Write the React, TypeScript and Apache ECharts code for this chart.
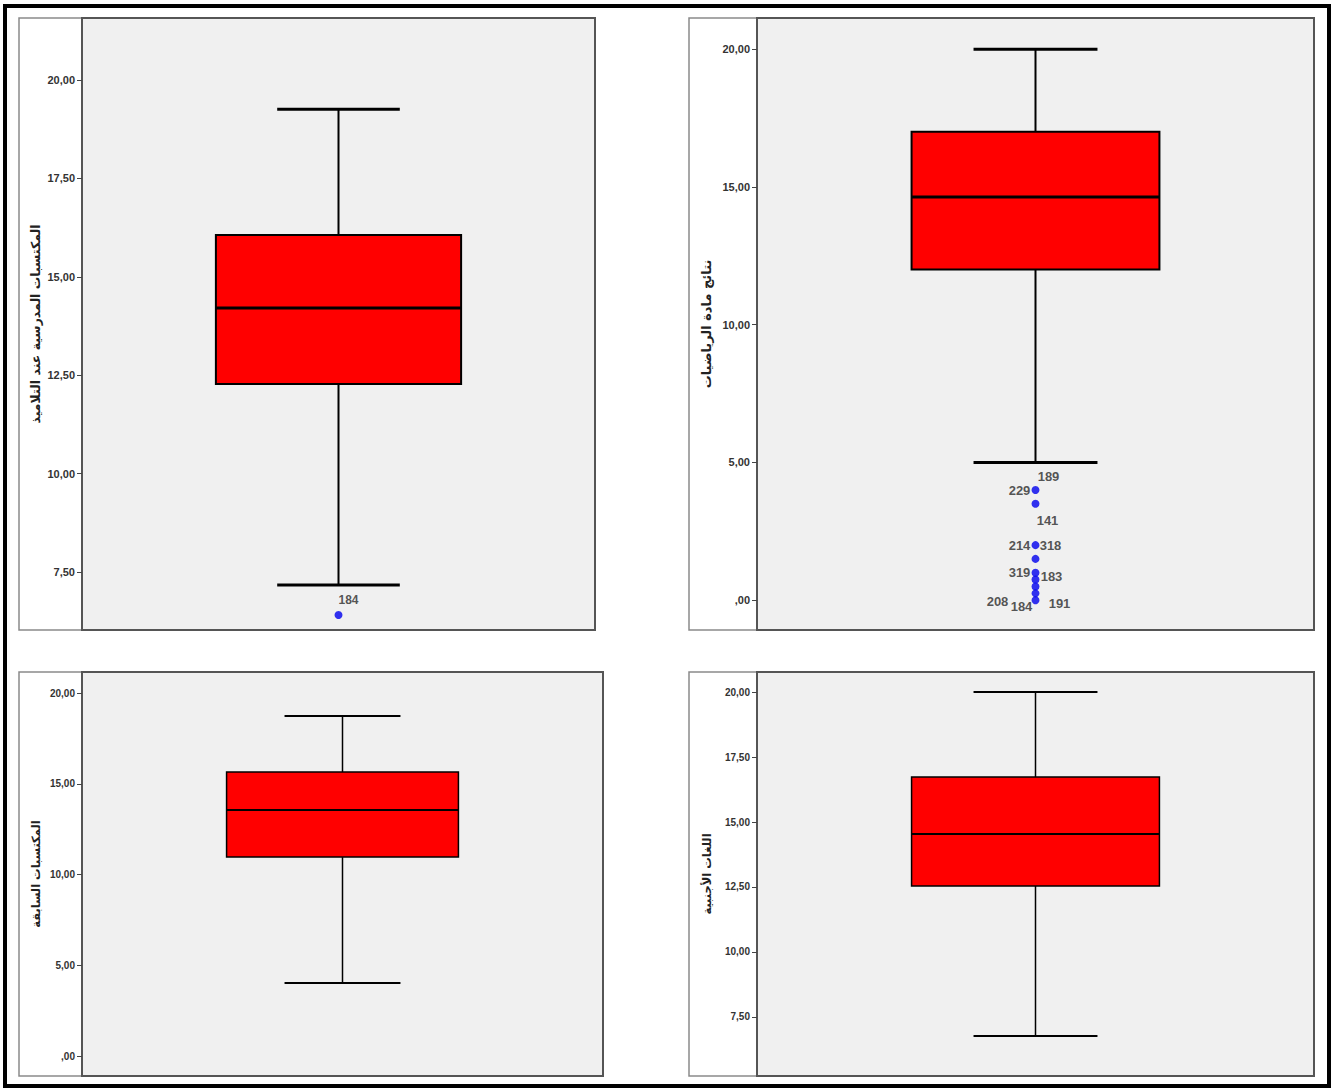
import React, { useEffect, useRef } from "react";
import * as echarts from "echarts";

// Five-number summaries: [lower whisker, Q1, median, Q3, upper whisker]
const schoolAchievementStats = [7.17, 12.28, 14.21, 16.06, 19.26];
const mathResultsStats = [5.0, 12.0, 14.63, 17.0, 20.0];
const priorAchievementStats = [4.02, 10.96, 13.55, 15.65, 18.73];
const foreignLanguagesStats = [6.77, 12.54, 14.54, 16.73, 20.0];

// Outlying cases
const schoolAchievementOutliers = [6.41];
const schoolAchievementOutlierIds = ["184"];
const mathResultsOutliers = [4.0, 3.5, 2.0, 1.5, 1.0, 0.75, 0.5, 0.25, 0.0];
const mathResultsLabelValues = [4.0, 4.0, 3.5, 2.0, 2.0, 1.0, 1.0, 0.0, 0.0, 0.0];
const mathResultsLabelIds = ["189", "229", "141", "214", "318", "319", "183", "208", "184", "191"];

// Tick values on each value axis
const ticksSchool = [7.5, 10, 12.5, 15, 17.5, 20];
const ticksMath = [0, 5, 10, 15, 20];
const ticksPrior = [0, 5, 10, 15, 20];
const ticksLanguages = [7.5, 10, 12.5, 15, 17.5, 20];

// Axis titles
const titleSchool = "المكتسبات المدرسية عند التلاميذ";
const titleMath = "نتائج مادة الرياضيات";
const titlePrior = "المكتسبات السابقة";
const titleLanguages = "اللغات الأجنبية";

// Label placement around the outlier markers (pixels)
const schoolLabelOffsets = [[10, -15]];
const mathLabelOffsets = [
  [13, -14], [-16, 0], [12, 17], [-16, 0], [15, 0],
  [-16, 0], [16, 4], [-38, 1], [-14, 6], [24, 3],
];

const fmtTick = (v: number) => {
  const s = v.toFixed(2).replace(".", ",");
  return s.startsWith("0,") ? s.slice(1) : s;
};

const caseFont = "'Liberation Sans', Arial, sans-serif";

type Panel = {
  grid: { left: number; top: number; width: number; height: number };
  frame: { x: number; y: number; w: number; h: number };
  min: number;
  max: number;
  ticks: number[];
  title: string;
  titleSize: number;
  nameGap: number;
  stats: number[];
  boxFrac: number;
  boxLine: number;
  medianLine: number;
  capLine: number;
  labelSize: number;
};

const panels: Panel[] = [
  {
    grid: { left: 82, top: 18, width: 513, height: 612 },
    frame: { x: 19, y: 18, w: 576, h: 612 },
    min: 6.03, max: 21.575, ticks: ticksSchool, title: titleSchool, titleSize: 12.5, nameGap: 40,
    stats: schoolAchievementStats, boxFrac: 0.478, boxLine: 2, medianLine: 3, capLine: 3, labelSize: 11,
  },
  {
    grid: { left: 757, top: 18, width: 557, height: 612 },
    frame: { x: 689, y: 18, w: 625, h: 612 },
    min: -1.08, max: 21.13, ticks: ticksMath, title: titleMath, titleSize: 13, nameGap: 44,
    stats: mathResultsStats, boxFrac: 0.445, boxLine: 2, medianLine: 3, capLine: 3, labelSize: 11,
  },
  {
    grid: { left: 82, top: 672, width: 521, height: 404 },
    frame: { x: 19, y: 672, w: 584, h: 404 },
    min: -1.1, max: 21.16, ticks: ticksPrior, title: titlePrior, titleSize: 11.5, nameGap: 40,
    stats: priorAchievementStats, boxFrac: 0.445, boxLine: 1.5, medianLine: 2, capLine: 2, labelSize: 10,
  },
  {
    grid: { left: 757, top: 672, width: 557, height: 404 },
    frame: { x: 689, y: 672, w: 625, h: 404 },
    min: 5.23, max: 20.77, ticks: ticksLanguages, title: titleLanguages, titleSize: 11.5, nameGap: 44,
    stats: foreignLanguagesStats, boxFrac: 0.445, boxLine: 1.5, medianLine: 2, capLine: 2, labelSize: 10,
  },
];

function boxRenderer(boxFrac: number, boxLine: number, medianLine: number, capLine: number) {
  return (_params: any, api: any) => {
    const x = api.value(0);
    const pMin = api.coord([x, api.value(1)]);
    const pQ1 = api.coord([x, api.value(2)]);
    const pMed = api.coord([x, api.value(3)]);
    const pQ3 = api.coord([x, api.value(4)]);
    const pMax = api.coord([x, api.value(5)]);
    const band = api.size([1, 0])[0];
    const half = (band * boxFrac) / 2;
    const capHalf = half / 2;
    const cx = pMed[0];
    const stroke = { stroke: "#000", lineWidth: boxLine };
    return {
      type: "group",
      children: [
        { type: "line", shape: { x1: cx, y1: pMax[1], x2: cx, y2: pQ3[1] }, style: stroke },
        { type: "line", shape: { x1: cx, y1: pQ1[1], x2: cx, y2: pMin[1] }, style: stroke },
        { type: "line", shape: { x1: cx - capHalf, y1: pMax[1], x2: cx + capHalf, y2: pMax[1] }, style: { stroke: "#000", lineWidth: capLine } },
        { type: "line", shape: { x1: cx - capHalf, y1: pMin[1], x2: cx + capHalf, y2: pMin[1] }, style: { stroke: "#000", lineWidth: capLine } },
        {
          type: "rect",
          shape: { x: cx - half, y: pQ3[1], width: half * 2, height: pQ1[1] - pQ3[1] },
          style: { fill: "#ff0000", stroke: "#000", lineWidth: boxLine },
        },
        { type: "line", shape: { x1: cx - half, y1: pMed[1], x2: cx + half, y2: pMed[1] }, style: { stroke: "#000", lineWidth: medianLine } },
      ],
    };
  };
}

export default function App() {
  const ref = useRef<HTMLDivElement>(null);

  useEffect(() => {
    if (!ref.current) return;
    const chart = echarts.init(ref.current, null, { renderer: "svg" });

    const grids = panels.map((p) => ({
      ...p.grid,
      show: true,
      backgroundColor: "#f0f0f0",
      borderColor: "#555",
      borderWidth: 2,
      containLabel: false,
    }));

    const xAxes = panels.map((_, i) => ({
      type: "category",
      gridIndex: i,
      data: [""],
      show: false,
    }));

    const yAxes = panels.map((p, i) => ({
      type: "value",
      gridIndex: i,
      min: p.min,
      max: p.max,
      name: p.title,
      nameLocation: "middle",
      nameRotate: 90,
      nameGap: p.nameGap,
      nameTextStyle: {
        fontFamily: "DejaVu Sans",
        fontWeight: "bold",
        fontSize: p.titleSize,
        color: "#222",
      },
      axisLine: { show: true, lineStyle: { color: "#555", width: 2 } },
      axisTick: {
        show: true,
        length: 5,
        customValues: p.ticks,
        lineStyle: { color: "#444", width: 1 },
      },
      axisLabel: {
        customValues: p.ticks,
        formatter: fmtTick,
        margin: 7,
        fontFamily: "Liberation Sans",
        fontWeight: "bold",
        fontSize: p.labelSize,
        color: "#333",
      },
      splitLine: { show: false },
    }));

    const series: any[] = panels.map((p, i) => ({
      type: "custom",
      xAxisIndex: i,
      yAxisIndex: i,
      renderItem: boxRenderer(p.boxFrac, p.boxLine, p.medianLine, p.capLine),
      encode: { x: 0, y: [1, 2, 3, 4, 5] },
      data: [[0, ...p.stats]],
      z: 3,
    }));

    const outlierMarker = {
      type: "scatter",
      symbol: "circle",
      symbolSize: 8,
      itemStyle: { color: "#0000ee" },
      z: 4,
    };
    const labelStyle = (size: number) => ({
      show: true,
      position: "inside",
      fontFamily: caseFont,
      fontWeight: "bold",
      fontSize: size,
      color: "#2a2a2a",
      formatter: (d: any) => d.name,
    });

    series.push(
      {
        ...outlierMarker,
        xAxisIndex: 0,
        yAxisIndex: 0,
        data: schoolAchievementOutliers.map((v) => [0, v]),
      },
      {
        type: "scatter",
        xAxisIndex: 0,
        yAxisIndex: 0,
        symbolSize: 1,
        itemStyle: { color: "rgba(0,0,0,0)" },
        z: 5,
        data: schoolAchievementOutliers.map((v, k) => ({
          value: [0, v],
          name: schoolAchievementOutlierIds[k],
          label: { ...labelStyle(12), offset: schoolLabelOffsets[k] },
        })),
      },
      {
        ...outlierMarker,
        xAxisIndex: 1,
        yAxisIndex: 1,
        data: mathResultsOutliers.map((v) => [0, v]),
      },
      {
        type: "scatter",
        xAxisIndex: 1,
        yAxisIndex: 1,
        symbolSize: 1,
        itemStyle: { color: "rgba(0,0,0,0)" },
        z: 5,
        data: mathResultsLabelValues.map((v, k) => ({
          value: [0, v],
          name: mathResultsLabelIds[k],
          label: { ...labelStyle(13), offset: mathLabelOffsets[k] },
        })),
      }
    );

    const frames = panels.map((p) => ({
      type: "rect",
      shape: { x: p.frame.x, y: p.frame.y, width: p.frame.w, height: p.frame.h },
      style: { fill: "#fff", stroke: "#8a8a8a", lineWidth: 1.5 },
      z: -10,
      silent: true,
    }));

    chart.setOption({
      animation: false,
      backgroundColor: "#ffffff",
      grid: grids,
      xAxis: xAxes,
      yAxis: yAxes,
      series,
      graphic: [
        ...frames,
        {
          type: "rect",
          shape: { x: 5, y: 6, width: 1324, height: 1080 },
          style: { fill: "none", stroke: "#000", lineWidth: 4 },
          z: 100,
          silent: true,
        },
      ],
    });

    return () => chart.dispose();
  }, []);

  return (
    <div
      ref={ref}
      style={{ position: "absolute", left: 0, top: 0, width: 1333, height: 1089 }}
    />
  );
}
